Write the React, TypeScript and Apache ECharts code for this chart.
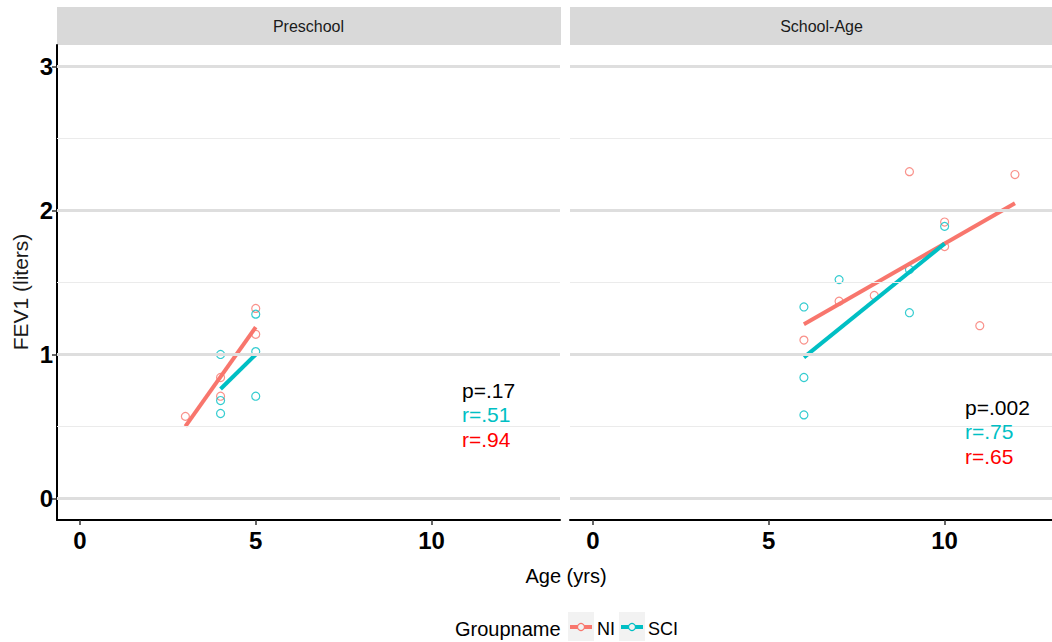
import React, { useEffect, useRef } from "react";
import * as echarts from "echarts";

// ---- data ----
const panels = ["Preschool", "School-Age"];
const groups = ["NI", "SCI"];

const preNI_x = [3, 4, 4, 5, 5];
const preNI_y = [0.57, 0.84, 0.71, 1.32, 1.14];
const preSCI_x = [4, 4, 4, 5, 5, 5];
const preSCI_y = [1.0, 0.68, 0.59, 1.28, 1.02, 0.71];

const schNI_x = [6, 7, 8, 9, 10, 10, 11, 12];
const schNI_y = [1.1, 1.37, 1.41, 2.27, 1.92, 1.75, 1.2, 2.25];
const schSCI_x = [6, 6, 6, 7, 9, 9, 10];
const schSCI_y = [1.33, 0.84, 0.58, 1.52, 1.59, 1.29, 1.89];

// fitted regression line end points
const preNI_fit_x = [3, 5];
const preNI_fit_y = [0.5, 1.19];
const preSCI_fit_x = [4, 5];
const preSCI_fit_y = [0.76, 1.0];
const schNI_fit_x = [6, 12];
const schNI_fit_y = [1.21, 2.05];
const schSCI_fit_x = [6, 10];
const schSCI_fit_y = [0.98, 1.77];

const yTicks = [0, 1, 2, 3];
const yMinor = [0.5, 1.5, 2.5];
const xTicks = [0, 5, 10];

const preStats = ["p=.17", "r=.51", "r=.94"];
const schStats = ["p=.002", "r=.75", "r=.65"];

const NI_COLOR = "#F8766D";
const SCI_COLOR = "#00BFC4";
const FONT = "'Liberation Sans', Arial, sans-serif";

const zip = (xs: number[], ys: number[]) => xs.map((x, i) => [x, ys[i]]);

export default function App() {
  const ref = useRef<HTMLDivElement>(null);

  useEffect(() => {
    if (!ref.current) return;
    const chart = echarts.init(ref.current, undefined, { renderer: "svg" });

    const gridTop = 45;
    const gridH = 475;
    const fullW = 503;
    const xMin = -0.65;
    const xMax = 13.65;
    const pxPerUnit = fullW / (xMax - xMin);
    const lefts = [57, 570];
    // the second panel runs past the right edge of the picture: show only its visible part
    const widths = [fullW, 1052 - 570];
    const xMaxes = [xMax, xMin + (1052 - 570) / pxPerUnit];

    const xAxisCommon = (gi: number) => ({
      gridIndex: gi,
      type: "value",
      min: xMin,
      max: xMaxes[gi],
      axisLine: { show: true, onZero: false, lineStyle: { color: "#000", width: 2 } },
      axisTick: { show: true, customValues: xTicks, length: 5, lineStyle: { color: "#333", width: 1.5 } },
      axisLabel: {
        customValues: xTicks,
        fontSize: 24,
        fontWeight: "bold",
        color: "#000",
        fontFamily: FONT,
        margin: 8,
      },
      splitLine: { show: false },
    });

    const yAxisCommon = (gi: number) => ({
      gridIndex: gi,
      type: "value",
      min: -0.15,
      max: 3.15,
      axisLine: { show: gi === 0, onZero: false, lineStyle: { color: "#000", width: 2 } },
      axisTick: { show: gi === 0, customValues: yTicks, length: 5, lineStyle: { color: "#333", width: 1.5 } },
      axisLabel: {
        show: gi === 0,
        customValues: yTicks,
        fontSize: 24,
        fontWeight: "bold",
        color: "#000",
        fontFamily: FONT,
        margin: 4,
      },
      splitLine: { show: false },
    });

    const gridLines = (gi: number) => ({
      type: "line",
      xAxisIndex: gi,
      yAxisIndex: gi,
      data: [],
      z: 0,
      silent: true,
      markLine: {
        silent: true,
        symbol: "none",
        animation: false,
        label: { show: false },
        data: [
          ...yMinor.map((v) => ({ yAxis: v, lineStyle: { color: "#EBEBEB", width: 1, type: "solid" } })),
          ...yTicks.map((v) => ({ yAxis: v, lineStyle: { color: "#DEDEDE", width: 3, type: "solid" } })),
        ],
      },
    });

    const scatter = (gi: number, name: string, color: string, data: number[][]) => ({
      type: "scatter",
      name,
      xAxisIndex: gi,
      yAxisIndex: gi,
      data,
      symbol: "circle",
      symbolSize: 8,
      z: 3,
      itemStyle: { color: "rgba(0,0,0,0)", borderColor: color, borderWidth: 1.2 },
    });

    const fit = (gi: number, name: string, color: string, data: number[][]) => ({
      type: "line",
      name,
      xAxisIndex: gi,
      yAxisIndex: gi,
      data,
      symbol: "none",
      z: 4,
      lineStyle: { color, width: 4 },
    });

    const statText = (x: number, y: number, lines: string[]) =>
      lines.map((t, i) => ({
        type: "text",
        x,
        y: y + i * 24.5,
        style: {
          text: t,
          fontSize: 21,
          fontFamily: FONT,
          fill: i === 0 ? "#000" : i === 1 ? SCI_COLOR : "#FF0000",
          verticalAlign: "middle",
          textAlign: "left",
        },
        z: 10,
      }));

    const option: any = {
      animation: false,
      backgroundColor: "#fff",
      grid: lefts.map((l, i) => ({ left: l, top: gridTop, width: widths[i], height: gridH, containLabel: false })),
      xAxis: [xAxisCommon(0), xAxisCommon(1)],
      yAxis: [yAxisCommon(0), yAxisCommon(1)],
      series: [
        gridLines(0),
        gridLines(1),
        scatter(0, groups[0], NI_COLOR, zip(preNI_x, preNI_y)),
        scatter(0, groups[1], SCI_COLOR, zip(preSCI_x, preSCI_y)),
        scatter(1, groups[0], NI_COLOR, zip(schNI_x, schNI_y)),
        scatter(1, groups[1], SCI_COLOR, zip(schSCI_x, schSCI_y)),
        fit(0, groups[0], NI_COLOR, zip(preNI_fit_x, preNI_fit_y)),
        fit(0, groups[1], SCI_COLOR, zip(preSCI_fit_x, preSCI_fit_y)),
        fit(1, groups[0], NI_COLOR, zip(schNI_fit_x, schNI_fit_y)),
        fit(1, groups[1], SCI_COLOR, zip(schSCI_fit_x, schSCI_fit_y)),
      ],
      graphic: [
        // facet strips
        ...lefts.map((l, i) => ({
          type: "group",
          children: [
            { type: "rect", shape: { x: l, y: 7, width: fullW + 1, height: 38 }, style: { fill: "#D9D9D9" } },
            {
              type: "text",
              x: l + fullW / 2,
              y: 26,
              style: {
                text: panels[i],
                fontSize: 16,
                fontFamily: FONT,
                fill: "#1A1A1A",
                textAlign: "center",
                verticalAlign: "middle",
              },
            },
          ],
        })),
        // axis titles
        {
          type: "text",
          x: 20,
          y: 292,
          rotation: Math.PI / 2,
          style: {
            text: "FEV1 (liters)",
            fontSize: 21,
            fontFamily: FONT,
            fill: "#1A1A1A",
            textAlign: "center",
            verticalAlign: "middle",
          },
        },
        {
          type: "text",
          x: 566,
          y: 576,
          style: {
            text: "Age (yrs)",
            fontSize: 20,
            fontFamily: FONT,
            fill: "#000",
            textAlign: "center",
            verticalAlign: "middle",
          },
        },
        // stats
        ...statText(462, 390, preStats),
        ...statText(965, 407, schStats),
        // legend
        {
          type: "text",
          x: 455,
          y: 629,
          style: { text: "Groupname", fontSize: 20, fontFamily: FONT, fill: "#000", verticalAlign: "middle" },
        },
        ...[
          { x: 568, color: NI_COLOR, label: groups[0] },
          { x: 619, color: SCI_COLOR, label: groups[1] },
        ].map((k) => ({
          type: "group",
          children: [
            { type: "rect", shape: { x: k.x, y: 612, width: 26, height: 29 }, style: { fill: "#F2F2F2" } },
            { type: "line", shape: { x1: k.x + 2, y1: 627, x2: k.x + 24, y2: 627 }, style: { stroke: k.color, lineWidth: 4 } },
            { type: "circle", shape: { cx: k.x + 13, cy: 627, r: 3.5 }, style: { fill: "#F2F2F2", stroke: k.color, lineWidth: 1.2 } },
            {
              type: "text",
              x: k.x + 29,
              y: 629,
              style: { text: k.label, fontSize: 18, fontFamily: FONT, fill: "#000", verticalAlign: "middle" },
            },
          ],
        })),
      ],
    };

    chart.setOption(option);
    return () => chart.dispose();
  }, []);

  return <div ref={ref} style={{ position: "fixed", left: 0, top: 0, width: 1052, height: 642 }} />;
}
